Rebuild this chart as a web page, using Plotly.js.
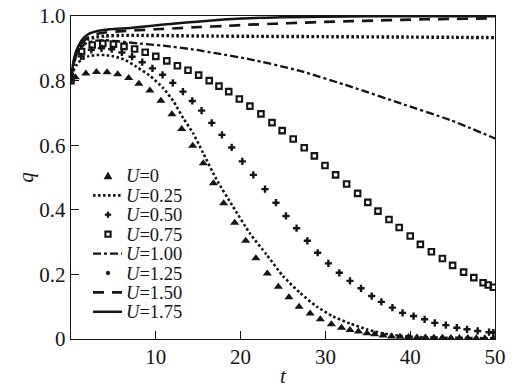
<!DOCTYPE html>
<html>
<head>
<meta charset="utf-8">
<script src="https://cdn.plot.ly/plotly-3.0.1.min.js"></script>
<style>html,body{margin:0;padding:0;background:#fff;}#chart{width:526px;height:391px;}</style>
</head>
<body>
<div id="chart"></div>
<script>
// U = 0 (triangles)
const tU0 = [0.5,1.75,3.0,4.25,5.5,6.8,8.0,9.3,10.6,11.9,13.05,14.35,15.6,16.8,18.0,19.3,20.6,21.8,23.15,24.45,25.7,26.9,28.2,29.4,30.7,31.9,32.9,33.9,34.9,35.8,36.8,37.8,38.8,39.8,40.8,41.8,42.8,43.8,44.8,45.8,46.8,47.8,48.8,49.8];
const qU0 = [0.81,0.822,0.827,0.826,0.82,0.808,0.79,0.769,0.738,0.696,0.65,0.598,0.544,0.482,0.42,0.36,0.304,0.25,0.203,0.162,0.129,0.10,0.079,0.061,0.046,0.035,0.028,0.023,0.018,0.015,0.011,0.008,0.007,0.006,0.005,0.005,0.004,0.004,0.003,0.003,0.003,0.002,0.002,0.002];
// U = 0.25 (dotted line)
const tU025 = [0,0.3,0.7,1.2,2,3,4,5,6.2,7.7,9.3,10.9,12.1,13.25,14.4,15.6,17.2,19.1,21.1,23.1,25.0,27.0,29.0,30.9,32.9,34.9,36.8,38.8,41,44,47,50];
const qU025 = [0.8,0.83,0.85,0.864,0.875,0.879,0.879,0.875,0.866,0.843,0.815,0.776,0.735,0.683,0.637,0.575,0.492,0.41,0.327,0.26,0.195,0.143,0.10,0.07,0.048,0.03,0.017,0.01,0.006,0.004,0.003,0.002];
// U = 0.50 (plus markers)
const tU050 = [0,1.2,2.4,3.6,4.8,6.0,7.2,8.4,9.6,10.8,12.0,13.2,14.3,15.4,16.6,17.8,18.95,20.2,21.5,22.88,24.17,25.35,26.6,27.87,29.09,30.35,31.64,32.9,34.2,35.46,36.6,37.9,39.1,40.4,41.7,42.9,44.2,45.5,46.7,47.96,49.3,49.8];
const qU050 = [0.8,0.875,0.895,0.9,0.897,0.887,0.874,0.857,0.838,0.818,0.793,0.766,0.737,0.707,0.669,0.632,0.593,0.55,0.508,0.464,0.422,0.381,0.343,0.304,0.267,0.234,0.205,0.18,0.157,0.133,0.115,0.097,0.081,0.071,0.061,0.05,0.043,0.035,0.03,0.025,0.021,0.02];
// U = 0.75 (square markers)
const tU075 = [0,1.25,2.5,3.75,5.0,6.25,7.5,8.75,10.0,11.3,12.55,13.8,15.05,16.3,17.45,18.6,19.85,21.1,22.4,23.7,24.9,26.2,27.5,28.7,29.95,31.2,32.5,33.8,35.0,36.2,37.5,38.7,40.0,41.2,42.5,43.8,45.0,46.3,47.5,48.6,49.2,49.8];
const qU075 = [0.8,0.89,0.91,0.915,0.913,0.906,0.898,0.888,0.875,0.861,0.846,0.832,0.817,0.80,0.783,0.766,0.743,0.721,0.697,0.67,0.645,0.619,0.592,0.567,0.537,0.508,0.48,0.451,0.423,0.396,0.37,0.345,0.319,0.293,0.27,0.249,0.228,0.207,0.19,0.174,0.167,0.16];
// U = 1.00 (dash-dot line)
const tU100 = [0,0.3,0.6,1,1.5,2,3,4,5.8,8,10.9,14.8,17.2,21.1,27,32.9,38.8,44.7,50];
const qU100 = [0.8,0.85,0.875,0.895,0.91,0.918,0.924,0.925,0.921,0.915,0.908,0.895,0.884,0.866,0.83,0.782,0.73,0.678,0.621];
// U = 1.25 (big dots)
const tU125 = [0,0.3,0.6,1,1.5,2,3,4,6,8,12,16,22,30,38,45,50];
const qU125 = [0.8,0.85,0.88,0.9,0.918,0.928,0.935,0.938,0.94,0.94,0.939,0.938,0.937,0.936,0.935,0.934,0.933];
// U = 1.50 (dashed line)
const tU150 = [0,0.3,0.6,1,1.5,2,3,4,6,7.8,10,12.5,15.2,18,21,24,27,30,33,36,39,42,45,48,50];
const qU150 = [0.8,0.855,0.885,0.905,0.922,0.933,0.944,0.949,0.953,0.956,0.959,0.962,0.966,0.969,0.973,0.976,0.979,0.982,0.984,0.986,0.988,0.99,0.991,0.992,0.993];
// U = 1.75 (solid line)
const tU175 = [0,0.3,0.6,1,1.5,2.2,3,4.6,7,9.3,12,15.2,18,21,25,30,35,40,45,50];
const qU175 = [0.8,0.86,0.89,0.914,0.932,0.946,0.953,0.959,0.963,0.969,0.976,0.983,0.989,0.993,0.996,0.998,0.999,0.999,0.999,0.999];

const legendLabels = ['0','0.25','0.50','0.75','1.00','1.25','1.50','1.75'];
const xTicks = [10,20,30,40,50];
const yTicks = [0,0.2,0.4,0.6,0.8,1.0];
const yTickText = ['0','0.2','0.4','0.6','0.8','1.0'];

const INK = '#151515';
const SERIF = 'Liberation Serif, Times New Roman, serif';
const DOT025 = '2.6px,2.4px';
const DOT125 = '2.6px,2.4px';
const DASHDOT = '8px,3px,3px,3px';
const DASH150 = '11px,8px';

const traces = [
  {x:tU0, y:qU0, mode:'markers', marker:{symbol:'triangle-up', size:8, color:INK}},
  {x:tU025, y:qU025, mode:'lines', line:{color:INK, width:2.6, dash:DOT025, shape:'spline', smoothing:0.6}},
  {x:tU050, y:qU050, mode:'markers', marker:{symbol:'cross', size:6, color:INK}},
  {x:tU075, y:qU075, mode:'markers', marker:{symbol:'square-open', size:5.5, color:INK, line:{width:2.1, color:INK}}},
  {x:tU100, y:qU100, mode:'lines', line:{color:INK, width:2.3, dash:DASHDOT, shape:'spline', smoothing:0.6}},
  {x:tU125, y:qU125, mode:'lines', line:{color:INK, width:3.4, dash:DOT125, shape:'spline', smoothing:0.6}},
  {x:tU150, y:qU150, mode:'lines', line:{color:INK, width:2.7, dash:DASH150, shape:'spline', smoothing:0.6}},
  {x:tU175, y:qU175, mode:'lines', line:{color:INK, width:2.5, shape:'spline', smoothing:0.6}}
].map(t => Object.assign(t, {type:'scatter', showlegend:false, hoverinfo:'skip'}));

// manual legend (pixel geometry -> paper)
const L = 71, R = 495, T = 16, B = 339;
const px = x => (x - L) / (R - L);
const py = y => (B - y) / (B - T);
const rowY = i => 176 + 19.4 * i;
const keyX0 = 93, keyX1 = 122, keyXc = 108;
const shapes = [];
const annotations = [];
function lineKey(i, dash, width) {
  shapes.push({type:'line', xref:'paper', yref:'paper', x0:px(keyX0), x1:px(keyX1), y0:py(rowY(i)), y1:py(rowY(i)),
    line:{color:INK, width:width, dash:dash}});
}
function pathKey(pts, fill, lw) {
  const d = pts.map((p, k) => (k ? 'L' : 'M') + px(p[0]).toFixed(5) + ',' + py(p[1]).toFixed(5)).join(' ') + ' Z';
  shapes.push({type:'path', xref:'paper', yref:'paper', path:d, fillcolor:fill, line:{color:INK, width:lw}});
}
(function(){ const y = rowY(0); pathKey([[keyXc-4,y+3],[keyXc+4,y+3],[keyXc,y-4]], INK, 0.5); })();
lineKey(1, DOT025, 2.6);
(function(){ const y = rowY(2), a = 3, b = 1;
  pathKey([[keyXc-b,y-a],[keyXc+b,y-a],[keyXc+b,y-b],[keyXc+a,y-b],[keyXc+a,y+b],[keyXc+b,y+b],[keyXc+b,y+a],[keyXc-b,y+a],[keyXc-b,y+b],[keyXc-a,y+b],[keyXc-a,y-b],[keyXc-b,y-b]], INK, 0.3); })();
(function(){ const y = rowY(3), s = 2.6;
  pathKey([[keyXc-s,y-s],[keyXc+s,y-s],[keyXc+s,y+s],[keyXc-s,y+s]], 'rgba(0,0,0,0)', 2.1); })();
lineKey(4, DASHDOT, 2.3);
(function(){ const y = rowY(5);
  shapes.push({type:'circle', xref:'paper', yref:'paper', x0:px(keyXc-1.9), x1:px(keyXc+1.9), y0:py(y+1.9), y1:py(y-1.9), fillcolor:INK, line:{color:INK, width:0.5}}); })();
lineKey(6, DASH150, 2.7);
lineKey(7, '', 2.5);
legendLabels.forEach((lab, i) => {
  annotations.push({xref:'paper', yref:'paper', x:px(125), y:py(rowY(i)), xanchor:'left', yanchor:'middle',
    height:19, valign:'middle', borderpad:0,
    text:'<i>U</i>=' + lab, showarrow:false, font:{family:SERIF, size:18.5, color:INK}});
});

const axisCommon = {showline:true, linecolor:INK, linewidth:1.3, mirror:true, ticks:'inside', ticklen:8, tickwidth:1, tickcolor:INK,
  showgrid:false, zeroline:false, fixedrange:true, tickfont:{family:SERIF, size:21, color:INK}};
const layout = {
  width:526, height:391,
  margin:{l:L, r:526-R, t:T, b:391-B},
  paper_bgcolor:'#fff', plot_bgcolor:'#fff',
  font:{family:SERIF, size:21, color:INK},
  showlegend:false,
  xaxis:Object.assign({}, axisCommon, {range:[0,50], tickmode:'array', tickvals:xTicks, ticklabelstandoff:-2,
    title:{text:'<i>t</i>', standoff:0, font:{family:SERIF, size:21, color:INK}}}),
  yaxis:Object.assign({}, axisCommon, {range:[0,1], tickmode:'array', tickvals:yTicks, ticktext:yTickText,
    title:{text:'<i>q</i>', standoff:0, font:{family:SERIF, size:21, color:INK}}}),
  shapes:shapes, annotations:annotations
};
Plotly.newPlot('chart', traces, layout, {staticPlot:true, displayModeBar:false});
</script>
</body>
</html>
